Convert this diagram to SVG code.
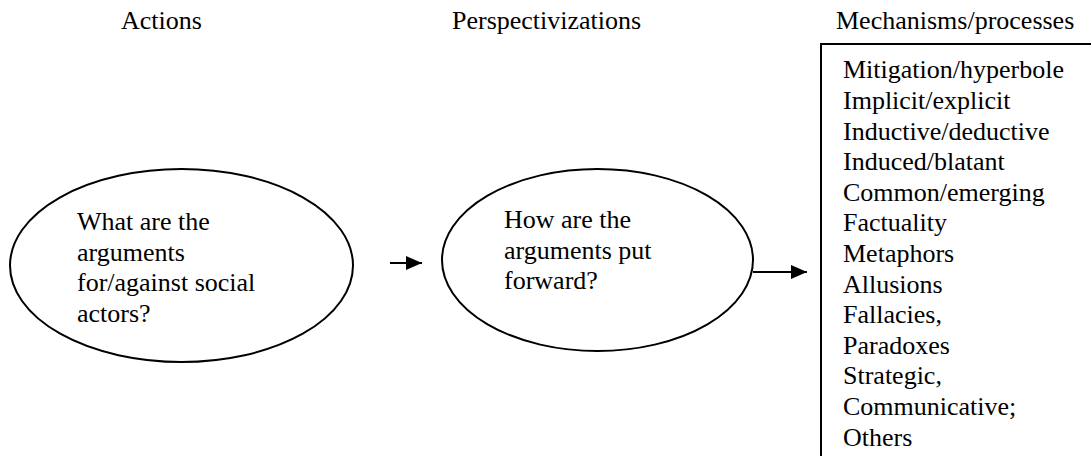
<svg xmlns="http://www.w3.org/2000/svg" width="1091" height="456" viewBox="0 0 1091 456">
<style>
.t{font-family:'Liberation Serif','Times New Roman',Times,serif;font-size:26px;fill:#000}
.shape{fill:none;stroke:#000;stroke-width:2}
.conn{stroke:#000;stroke-width:2;fill:none}
</style>
<defs>
<marker id="ah2" markerWidth="16" markerHeight="14" refX="16" refY="7" orient="auto" markerUnits="userSpaceOnUse">
<path d="M0,0 L16,7 L0,14 Z" fill="#000"/>
</marker>
</defs>
<rect width="1091" height="456" fill="#fff"/>
<g id="headers" class="t">
<text x="121" y="29">Actions</text>
<text x="452" y="29">Perspectivizations</text>
<text x="836" y="29">Mechanisms/processes</text>
</g>
<g id="node-actions">
<ellipse class="shape" cx="181.5" cy="265.5" rx="171.5" ry="96.5"/>
<g class="t">
<text x="77" y="230">What are the</text>
<text x="77" y="260.6">arguments</text>
<text x="77" y="291.2">for/against social</text>
<text x="77" y="321.8">actors?</text>
</g>
</g>
<g id="node-perspectivizations">
<ellipse class="shape" cx="597.5" cy="260" rx="155.5" ry="91"/>
<g class="t">
<text x="504" y="228">How are the</text>
<text x="504" y="258.6">arguments put</text>
<text x="504" y="289.2">forward?</text>
</g>
</g>
<g id="node-mechanisms">
<path class="shape" d="M821,460 L821,44 L1095,44"/>
<g class="t">
<text x="843" y="78.3">Mitigation/hyperbole</text>
<text x="843" y="108.9">Implicit/explicit</text>
<text x="843" y="139.5">Inductive/deductive</text>
<text x="843" y="170.1">Induced/blatant</text>
<text x="843" y="200.7">Common/emerging</text>
<text x="843" y="231.3">Factuality</text>
<text x="843" y="261.9">Metaphors</text>
<text x="843" y="292.5">Allusions</text>
<text x="843" y="323.1">Fallacies,</text>
<text x="843" y="353.7">Paradoxes</text>
<text x="843" y="384.3">Strategic,</text>
<text x="843" y="414.9">Communicative;</text>
<text x="843" y="445.5">Others</text>
</g>
</g>
<g id="connectors">
<line class="conn" x1="390" y1="263" x2="422" y2="263" marker-end="url(#ah2)"/>
<line class="conn" x1="753" y1="272" x2="807" y2="272" marker-end="url(#ah2)"/>
</g>
</svg>
